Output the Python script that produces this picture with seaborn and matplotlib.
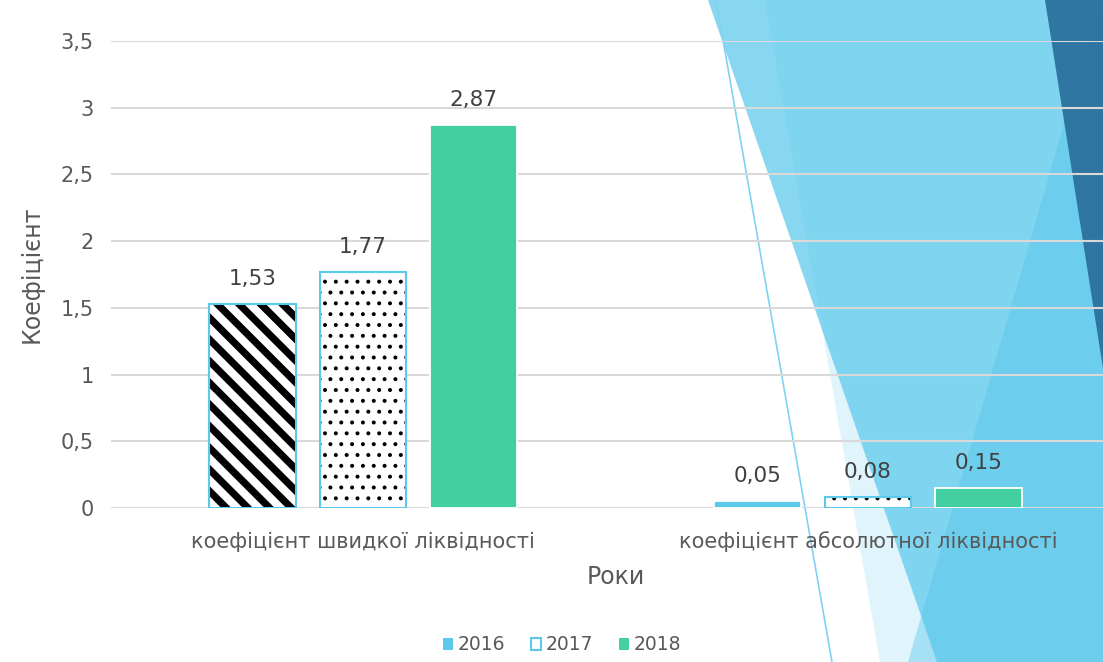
import seaborn as sns
import pandas as pd
import matplotlib.pyplot as plt
from matplotlib.patches import Patch, Polygon, Rectangle
from matplotlib.lines import Line2D
from matplotlib.ticker import FuncFormatter

categories = ['коефіцієнт швидкої ліквідності', 'коефіцієнт абсолютної ліквідності']
years = ['2016', '2017', '2018']
values_2016 = [1.53, 0.05]
values_2017 = [1.77, 0.08]
values_2018 = [2.87, 0.15]

blue = '#5BC8EC'
green = '#44CFA0'

rows = []
for y, vals in zip(years, [values_2016, values_2017, values_2018]):
    for c, v in zip(categories, vals):
        rows.append({'Показник': c, 'Рік': y, 'Значення': v})
df = pd.DataFrame(rows)

sns.set_theme(style='white')
plt.rcParams['font.family'] = ['DejaVu Sans']

# dpi 130 so that hatch spacing matches; K converts "100-dpi points" to real points
W, H, DPI = 1103, 662, 130
K = 100 / DPI
fig = plt.figure(figsize=(W / DPI, H / DPI), dpi=DPI)

# decorative slide background (pixel coords from top-left)
def px(pts):
    return [(x / W, 1 - y / H) for x, y in pts]

shapes = [
    ([(708, 0), (1250, 0), (1250, 662), (937, 662)], blue, 0.72),
    ([(765, 0), (1250, 0), (1250, 662), (880, 662)], blue, 0.19),
    ([(1100, 0), (1250, 0), (1250, 662), (908, 662)], '#50C4EA', 0.40),
    ([(1045, 0), (1130, 0), (1130, 540)], '#2A6E9C', 0.92),
]
for pts, col, a in shapes:
    fig.patches.append(Polygon(px(pts), closed=True, facecolor=col, alpha=a,
                               edgecolor='none', transform=fig.transFigure, zorder=-2))
(x0, y0), (x1, y1) = px([(716, 0), (832, 662)])
fig.lines.append(Line2D([x0, x1], [y0, y1], color='#7FD3F0', lw=1.2 * K,
                        transform=fig.transFigure, zorder=-1))

ax = fig.add_axes([110.5 / W, 154 / H, 1010 / W, 467 / H])
ax.patch.set_alpha(0)

sns.barplot(data=df, x='Показник', y='Значення', hue='Рік', order=categories,
            hue_order=years, palette=[blue, '#FFFFFF', green], width=0.654, gap=0.21,
            legend=False, ax=ax, saturation=1, zorder=3)

bars16, bars17, bars18 = ax.containers[0], ax.containers[1], ax.containers[2]

# 2016 first group: black diagonal stripes with blue outline
p = bars16.patches[0]
p.set_facecolor('white')
p.set_edgecolor('black')
p.set_linewidth(0)
p.set_hatch('\\\\')
if hasattr(p, 'set_hatch_linewidth'):
    p.set_hatch_linewidth(4.0)
ax.add_patch(Rectangle(p.get_xy(), p.get_width(), p.get_height(), fill=False,
                       edgecolor=blue, lw=1.5 * K, zorder=4))

# 2017: dotted with blue outline
for p in bars17.patches:
    p.set_facecolor('white')
    p.set_edgecolor('black')
    p.set_linewidth(0)
    p.set_hatch('..')
    if hasattr(p, 'set_hatch_linewidth'):
        p.set_hatch_linewidth(1.0)
    ax.add_patch(Rectangle(p.get_xy(), p.get_width(), p.get_height(), fill=False,
                           edgecolor=blue, lw=1.5 * K, zorder=4))

for cont in ax.containers:
    ax.bar_label(cont, labels=[f'{b.get_height():.2f}'.replace('.', ',') for b in cont],
                 padding=11 * K, fontsize=15.5 * K, color='#404040')

ax.set_xlim(-0.5, 1.5)
ax.set_ylim(0, 3.5)
ax.set_yticks([0, 0.5, 1, 1.5, 2, 2.5, 3, 3.5])
ax.yaxis.set_major_formatter(FuncFormatter(lambda v, _: ('%g' % v).replace('.', ',')))
ax.yaxis.grid(True, color='#D9D9D9', lw=1.5 * K, zorder=0)
ax.set_axisbelow(True)
for s in ax.spines.values():
    s.set_visible(False)
ax.tick_params(axis='y', length=0, pad=12 * K, labelsize=15 * K, labelcolor='#595959')
ax.tick_params(axis='x', length=0, pad=17 * K, labelsize=15 * K, labelcolor='#595959')
ax.set_xlabel('Роки', fontsize=17 * K, color='#595959', labelpad=9 * K)
ax.set_ylabel('Коефіцієнт', fontsize=17 * K, color='#595959', labelpad=12 * K)

handles = [
    Patch(facecolor=blue, edgecolor='none'),
    Patch(facecolor='white', edgecolor=blue, lw=1.5 * K),
    Patch(facecolor=green, edgecolor='none'),
]
fig.legend(handles, years, loc='center', bbox_to_anchor=(562 / W, 17 / H), ncol=3,
           frameon=False, fontsize=13.5 * K, labelcolor='#595959', handlelength=0.55,
           handleheight=0.55, handletextpad=0.25, columnspacing=1.35)

fig.savefig('out.png', dpi=DPI)
